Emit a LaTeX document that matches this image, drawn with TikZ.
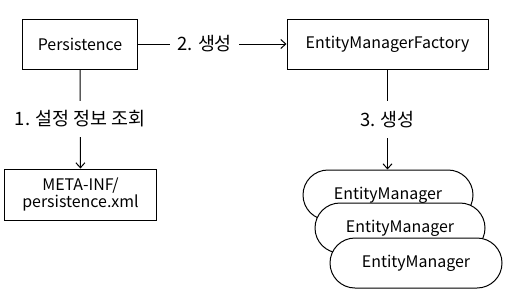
\documentclass[tikz,border=0pt]{standalone}
\usepackage{fontspec}
\setmainfont{Noto Sans CJK KR}
\usetikzlibrary{arrows.meta}
\tikzset{
  box/.style={draw, line width=1bp, inner sep=0pt, font=\fontsize{16}{18}\selectfont},
  emgr/.style={box, fill=white, rounded corners=25bp, minimum width=170bp, minimum height=50bp},
  flow/.style={draw, line width=1bp, -{Straight Barb[length=5bp, width=9bp]}},
  step label/.style={fill=white, font=\fontsize{18.5}{20}\selectfont}
}
\begin{document}
\begin{tikzpicture}[x=1bp, y=-1bp]
    \useasboundingbox (0,0) rectangle (508,292);

    % Top row
    \node[box, minimum width=114bp, minimum height=50bp] (pers) at (80,44) {Persistence};
    \node[box, minimum width=201bp, minimum height=50bp] (emf) at (387.5,44) {EntityManagerFactory};

    % Config file
    \node[box, minimum width=151bp, minimum height=51bp, align=center] (meta) at (80.5,194.5) {META-INF/\\persistence.xml};

    % Stacked entity managers (drawn back to front)
    \node[emgr] (em1) at (388,195) {EntityManager};
    \node[emgr] (em2) at (400,228) {EntityManager};
    \node[emgr, minimum width=172bp] (em3) at (416,263) {EntityManager};

    % Steps
    \draw[flow] (pers) -- node[step label, pos=0.45, inner xsep=7bp, inner ysep=0bp] {2. 생성} (emf);
    \draw[flow] (pers) -- node[step label, inner ysep=10bp] {1. 설정 정보 조회} (meta);
    \draw[flow] (emf.south) -- node[step label, inner ysep=10bp] {3. 생성} (emf.south |- em1.north);
\end{tikzpicture}
\end{document}
